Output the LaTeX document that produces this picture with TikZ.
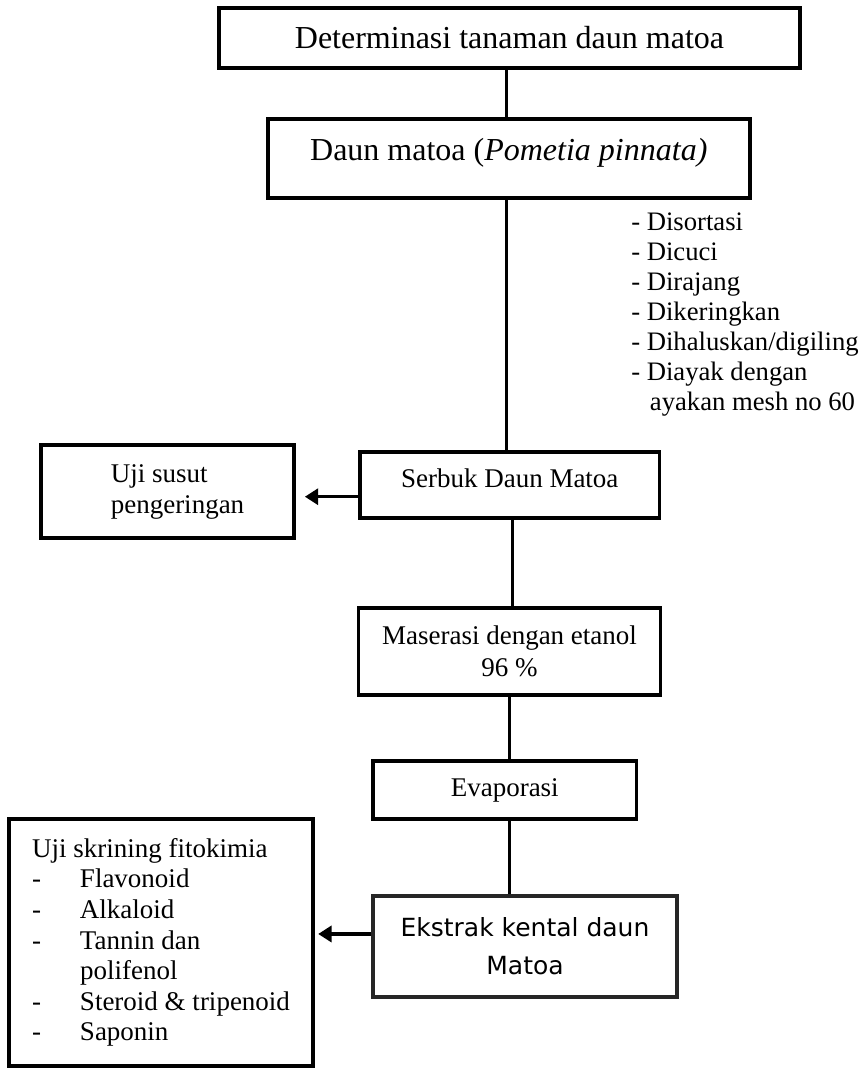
\documentclass[tikz,border=0pt]{standalone}
\usepackage{fontspec}
\setmainfont{Liberation Serif}
\newfontfamily\ekfont{DejaVu Sans}
\usetikzlibrary{arrows.meta}
\begin{document}
\begin{tikzpicture}[x=0.75pt,y=-0.75pt,
  box/.style={draw, line width=2.8pt, inner sep=0pt, align=center},
  big/.style={font=\fontsize{24pt}{28pt}\selectfont},
  mid/.style={font=\fontsize{20.25pt}{23.25pt}\selectfont},
  link/.style={line width=2.6pt},
  arr/.style={line width=2.6pt, -{Triangle[length=10pt,width=12pt]}}]
\useasboundingbox (0,0) rectangle (863,1068);

\node[box,big,minimum width=435.75pt,minimum height=45pt] (det) at (509.5,38) {Determinasi tanaman daun matoa};
\node[box,big,minimum width=361.5pt,minimum height=59.25pt,text height=17pt,text depth=14pt] (daun) at (508.8,158.5) {Daun matoa (\textit{Pometia pinnata)}};

\node[anchor=north west,inner sep=0pt,align=left,font=\fontsize{20pt}{22.5pt}\selectfont] (steps) at (631,212.8)
  {- Disortasi\\- Dicuci\\- Dirajang\\- Dikeringkan\\- Dihaluskan/digiling\\- Diayak dengan\\\hspace*{14pt}ayakan mesh no 60};

\node[box,mid,minimum width=224.6pt,minimum height=49.5pt,text height=14pt,text depth=9.5pt] (serbuk) at (509.75,484.7) {Serbuk Daun Matoa};
\node[box,mid,align=left,minimum width=189.75pt,minimum height=69.75pt] (susut) at (167.5,491.5) {\hspace*{15pt}Uji susut\\\hspace*{15pt}pengeringan};
\node[box,font=\fontsize{20.25pt}{24pt}\selectfont,minimum width=226.5pt,minimum height=65.25pt] (maser) at (509.5,651.5) {Maserasi dengan etanol\\96 \%};
\node[box,mid,minimum width=197.6pt,minimum height=43.5pt] (evap) at (504.75,790) {Evaporasi};
\node[box,line width=3pt,draw=black!85,minimum width=228pt,minimum height=75.75pt,font=\ekfont\fontsize{18.75pt}{28.5pt}\selectfont] (ekstrak) at (525,946.5) {Ekstrak kental daun\\Matoa};
\node[box,font=\fontsize{20.25pt}{22.95pt}\selectfont,align=left,minimum width=228pt,minimum height=185.25pt] (skrin) at (161,942.5)
  {Uji skrining fitokimia\\
   \makebox[36pt][l]{-}Flavonoid\\
   \makebox[36pt][l]{-}Alkaloid\\
   \makebox[36pt][l]{-}Tannin dan\\
   \hspace*{36pt}polifenol\\
   \makebox[36pt][l]{-}Steroid \& tripenoid\\
   \makebox[36pt][l]{-}Saponin};

\draw[link] ([xshift=-2.1pt]det.south) -- ([xshift=-2.1pt]det.south |- daun.north);
\draw[link] ([xshift=-1.6pt]daun.south) -- ([xshift=-1.6pt]daun.south |- serbuk.north);
\draw[link] ([xshift=1.9pt]serbuk.south) -- ([xshift=1.9pt]serbuk.south |- maser.north);
\draw[link] (maser.south) -- (maser.south |- evap.north);
\draw[link] ([xshift=3.4pt]evap.south) -- ([xshift=3.4pt]evap.south |- ekstrak.north);

\draw[arr, shorten >=6.75pt] ([yshift=-9pt]serbuk.west) -- ([yshift=-9pt]serbuk.west -| susut.east);
\draw[arr, shorten >=2.5pt] ([yshift=9.4pt]ekstrak.west) -- ([yshift=9.4pt]ekstrak.west -| skrin.east);
\end{tikzpicture}
\end{document}
